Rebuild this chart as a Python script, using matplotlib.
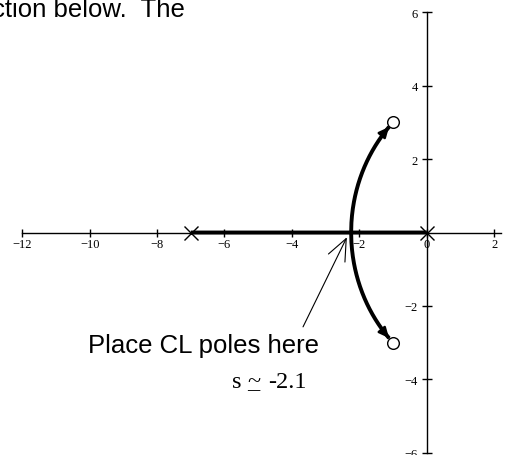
import numpy as np
import matplotlib
matplotlib.use("Agg")
import matplotlib.pyplot as plt

# --- open-loop poles / zeros of the system ---
poles = [0.0, -7.0]
zeros = [-1 + 3j, -1 - 3j]

# --- axis ticks ---
x_ticks = [-12, -10, -8, -6, -4, -2, 0, 2]
y_ticks = [-6, -4, -2, 2, 4, 6]

# --- annotation text ---
top_text = "ction below.  The"
note_text = "Place CL poles here"
s_approx = "-2.1"

num = np.poly(zeros).real   # s^2 + 2s + 10
den = np.poly(poles).real   # s^2 + 7s


# --- root locus from the characteristic polynomial den + K*num ---
def root_locus(num, den):
    # breakaway point: d/ds(num/den) = 0 on the real axis between the poles
    deriv = np.polysub(np.polymul(np.polyder(den), num), np.polymul(den, np.polyder(num)))
    cands = [r.real for r in np.roots(deriv) if abs(r.imag) < 1e-9 and min(poles) < r.real < max(poles)]
    sb = cands[0]
    kb = -np.polyval(den, sb) / np.polyval(num, sb)
    gains = np.concatenate([np.linspace(0, kb, 200), kb * np.logspace(0, 3.5, 600)[1:]])
    upper, lower = [], []
    for k in gains:
        r = np.roots(np.polyadd(den, k * num))
        if np.all(np.abs(r.imag) < 1e-6):
            r = np.sort(r.real)
            upper.append(r[1])
            lower.append(r[0])
        else:
            r = r[np.argsort(-r.imag)]
            upper.append(r[0])
            lower.append(r[1])
    return np.array(upper, dtype=complex), np.array(lower, dtype=complex)


upper, lower = root_locus(num, den)

fig = plt.figure(figsize=(5.11, 4.56), dpi=100)
ax = fig.add_axes([0, 0, 1, 1])
ax.set_xlim(-12.66, 2.5)
ax.set_ylim(-6.06, 6.36)

# axes through the origin
for side in ["top", "right"]:
    ax.spines[side].set_visible(False)
ax.spines["left"].set_position(("data", 0))
ax.spines["bottom"].set_position(("data", 0))
ax.spines["left"].set_bounds(-6, 6)
ax.spines["bottom"].set_bounds(-12, 2.2)
ax.spines["left"].set_linewidth(1.0)
ax.spines["bottom"].set_linewidth(1.0)
ax.set_xticks(x_ticks)
ax.set_yticks(y_ticks)
ax.set_xticklabels([str(t).replace("-", "\u2212") for t in x_ticks])
ax.set_yticklabels([str(t).replace("-", "\u2212") for t in y_ticks])
ax.tick_params(axis="x", direction="inout", length=6, width=1, labelsize=9, pad=1)
ax.tick_params(axis="y", direction="inout", length=7.2, width=1, labelsize=9, pad=3)
for lab in ax.get_xticklabels() + ax.get_yticklabels():
    lab.set_family("Liberation Serif")

# locus branches, trimmed just short of the zeros
for branch, z in [(upper, zeros[0]), (lower, zeros[1])]:
    keep = np.abs(branch - z) > 0.17
    b = branch[keep]
    ax.plot(b.real, b.imag, color="black", lw=2.8, solid_capstyle="butt")
    ax.annotate("", xy=(b[-1].real, b[-1].imag), xytext=(b[-8].real, b[-8].imag),
                arrowprops=dict(arrowstyle="-|>,head_length=0.6,head_width=0.28",
                                color="black", lw=1.8, shrinkA=0, shrinkB=0))

# poles and zeros
ax.plot(np.real(poles), np.imag(poles), "x", color="black", ms=9.5, mew=1.0)
ax.plot(np.real(zeros), np.imag(zeros), "o", mfc="none", mec="black", ms=8.4, mew=1.0)

# pointer to the breakaway point
ax.annotate("", xy=(-2.37, -0.13), xytext=(-3.67, -2.57),
            arrowprops=dict(arrowstyle="->,head_length=1.56,head_width=0.66",
                            color="black", lw=0.8, shrinkA=0, shrinkB=0))

ax.text(-10.05, -3.25, note_text, family="Liberation Sans", fontsize=18.5, va="baseline")
ax.text(-5.5, -4.21, "s", family="Liberation Serif", fontsize=17.5, va="baseline", ha="right")
ax.text(-5.14, -4.21, "~", family="Liberation Serif", fontsize=17.5, va="baseline", ha="center")
ax.text(-5.14, -4.21, "_", family="Liberation Serif", fontsize=17.5, va="baseline", ha="center")
ax.text(-4.71, -4.21, s_approx, family="Liberation Serif", fontsize=17.5, va="baseline", ha="left")

fig.text(185 / 511, 1 - 17.3 / 456, top_text, family="Liberation Sans", fontsize=18.5,
         ha="right", va="baseline")

fig.savefig("out.png", dpi=100)
